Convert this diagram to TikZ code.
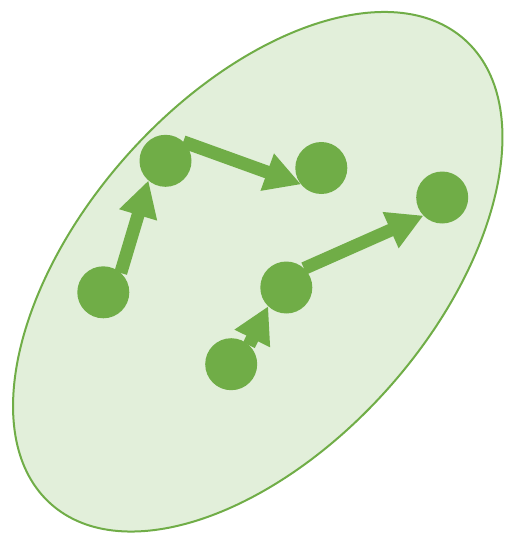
\documentclass[tikz,border=0pt]{standalone}
\usetikzlibrary{arrows.meta}
\definecolor{gr}{HTML}{70AD47}
\definecolor{lgr}{HTML}{E2EFDA}
\begin{document}
\begin{tikzpicture}[x=1pt,y=-1pt,
  dot/.style={circle,fill=gr,minimum size=52pt,inner sep=0pt,outer sep=0pt},
  arr/.style={draw=gr,line width=13pt,-{Triangle[length=36pt,width=37pt]}},
  blob/.style={draw=gr,fill=lgr,line width=2pt}]
\useasboundingbox (0,0) rectangle (513,541);
\draw[blob, rotate around={48.3:(257.75,271.75)}] (257.75,271.75) ellipse [x radius=311, y radius=175];
\node[dot] (A) at (103.3,292.3) {};
\node[dot] (B) at (165.5,160.8) {};
\node[dot] (C) at (321.3,168) {};
\node[dot] (D) at (442.2,197.5) {};
\node[dot] (E) at (286.3,287.5) {};
\node[dot] (F) at (231.2,364.2) {};
\draw[arr] (A.48) -- (B.229);
\draw[arr] (B.47) -- (C.219);
\draw[arr] (F.47) -- (E.226);
\draw[arr] (E.47) -- (D.224);
\end{tikzpicture}
\end{document}
